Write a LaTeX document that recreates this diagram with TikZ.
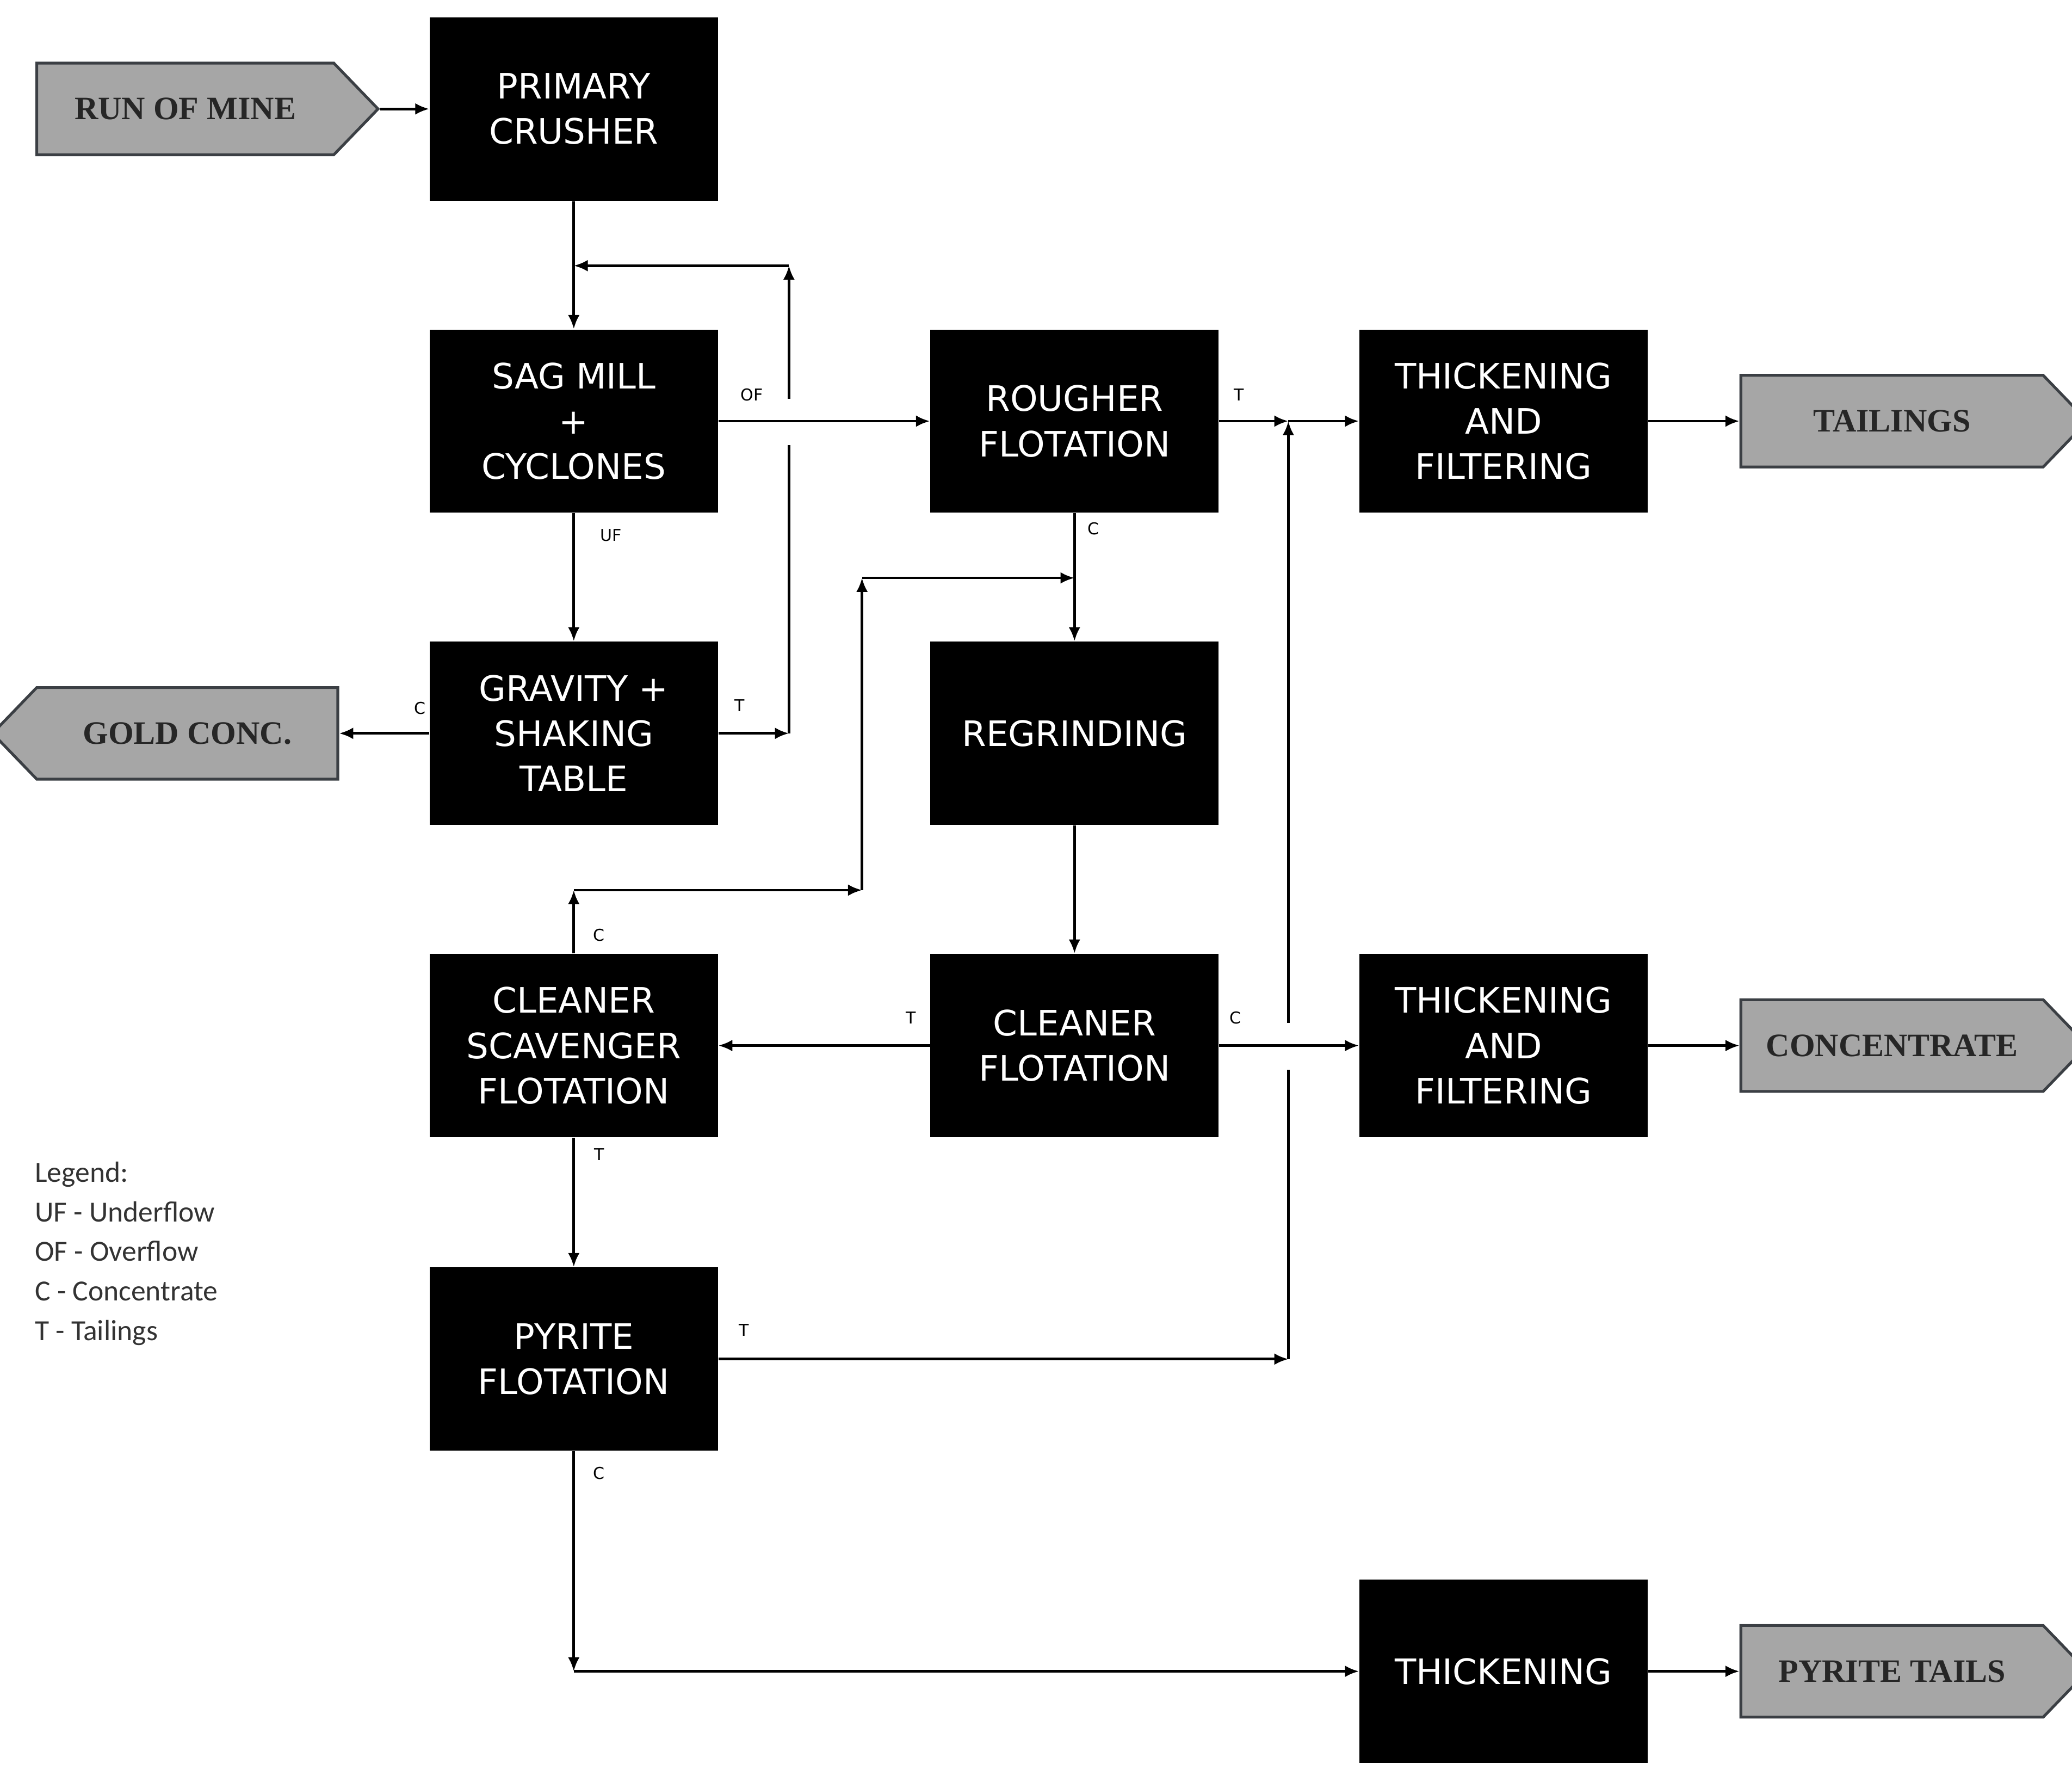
\documentclass[tikz,border=0pt]{standalone}
\usepackage{fontspec}
\setmainfont{Liberation Serif}
\newfontfamily\boxfont{DejaVu Sans}
\newfontfamily\legfont{Carlito}
\usetikzlibrary{shapes.symbols,arrows.meta}
\begin{document}
\begin{tikzpicture}[x=0.02cm,y=-0.02cm,
  blk/.style={fill=black,text=white,align=center,minimum width=4.34cm,minimum height=2.76cm,inner sep=0pt,font=\boxfont\fontsize{15}{19.4}\selectfont},
  sig/.style={signal,draw=black!60!cyan!40!black,line width=1.2pt,fill=black!35,signal pointer angle=92,minimum height=1.38cm,inner sep=0pt,font=\bfseries\fontsize{14}{16}\selectfont,text=black!85},
  ln/.style={line width=1.1pt},
  ar/.style={ln,-{Latex[length=6pt,width=5pt]}},
  lab/.style={font=\boxfont\fontsize{7}{8}\selectfont,inner sep=0pt}]
\useasboundingbox (0,0) rectangle (1560,1332);
\node[blk] (pc) at (432,82) {PRIMARY\\CRUSHER};
\node[blk] (sag) at (432,317) {SAG MILL\\+\\CYCLONES};
\node[blk] (gr) at (432,552) {GRAVITY +\\SHAKING\\TABLE};
\node[blk] (cs) at (432,787) {CLEANER\\SCAVENGER\\FLOTATION};
\node[blk] (py) at (432,1023) {PYRITE\\FLOTATION};
\node[blk] (ro) at (809,317) {ROUGHER\\FLOTATION};
\node[blk] (rg) at (809,552) {REGRINDING};
\node[blk] (cf) at (809,787) {CLEANER\\FLOTATION};
\node[blk] (tf1) at (1132,317) {THICKENING\\AND\\FILTERING};
\node[blk] (tf2) at (1132,787) {THICKENING\\AND\\FILTERING};
\node[blk] (th) at (1132,1258) {THICKENING};
\node[sig,signal to=east,minimum width=5.14cm] (rom) at (139.5,82) {RUN OF MINE};
\node[sig,signal to=west,minimum width=5.2cm] (gc) at (141,552) {GOLD CONC.};
\node[sig,signal to=east,minimum width=5.22cm] (tl) at (1424.5,317) {TAILINGS};
\node[sig,signal to=east,minimum width=5.22cm] (co) at (1424.5,787) {CONCENTRATE};
\node[sig,signal to=east,minimum width=5.22cm] (pt) at (1424.5,1258) {PYRITE TAILS};
\coordinate (a1) at (594,552); \coordinate (a2) at (594,200); \coordinate (a3) at (432,200);
\coordinate (a2b) at (594,335); \coordinate (a2c) at (594,300);
\coordinate (j1) at (970,317); \coordinate (j2) at (970,1023);
\coordinate (j3) at (970,805); \coordinate (j4) at (970,770);
\coordinate (k1) at (809,435); \coordinate (k2) at (649,435); \coordinate (k3) at (649,670); \coordinate (k4) at (432,670);
\coordinate (p1) at (432,1258);
\draw[ar] (rom.east) -- (pc.west);
\draw[ar] (pc.south) -- (sag.north);
\draw[ar] (sag.east) -- (ro.west);
\draw[ar] (sag.south) -- (gr.north);
\draw[ar] (gr.west) -- (gc.east);
\draw[ar] (gr.east) -- (a1);
\draw[ln] (a1) -- (a2b);
\draw[ar] (a2c) -- (a2);
\draw[ar] (a2) -- (a3);
\draw[ar] (ro.east) -- (j1);
\draw[ar] (j1) -- (tf1.west);
\draw[ar] (py.east) -- (j2);
\draw[ln] (j2) -- (j3);
\draw[ar] (j4) -- (j1);
\draw[ar] (ro.south) -- (rg.north);
\draw[ar] (k2) -- (k1);
\draw[ar] (cs.north) -- (k4);
\draw[ar] (k4) -- (k3);
\draw[ar] (k3) -- (k2);
\draw[ar] (rg.south) -- (cf.north);
\draw[ar] (cf.west) -- (cs.east);
\draw[ar] (cf.east) -- (tf2.west);
\draw[ar] (cs.south) -- (py.north);
\draw[ar] (py.south) -- (p1);
\draw[ar] (p1) -- (th.west);
\draw[ar] (tf1.east) -- (tl.west);
\draw[ar] (tf2.east) -- (co.west);
\draw[ar] (th.east) -- (pt.west);
\node[lab] (l1) at (566,297) {OF};
\node[lab] (l2) at (460,403) {UF};
\node[lab] (l3) at (316,533) {C};
\node[lab] (l4) at (557,531) {T};
\node[lab] (l5) at (933,297) {T};
\node[lab] (l6) at (823,398) {C};
\node[lab] (l7) at (451,704) {C};
\node[lab] (l8) at (686,766) {T};
\node[lab] (l9) at (930,766) {C};
\node[lab] (l10) at (451,869) {T};
\node[lab] (l11) at (560,1001) {T};
\node[lab] (l12) at (451,1109) {C};
\node[anchor=north west,align=left,inner sep=0pt,text=black!80,font=\legfont\fontsize{12.5}{17}\selectfont] (leg) at (26,874) {Legend:\\UF - Underflow\\OF - Overflow\\C - Concentrate\\T - Tailings};
\end{tikzpicture}
\end{document}
